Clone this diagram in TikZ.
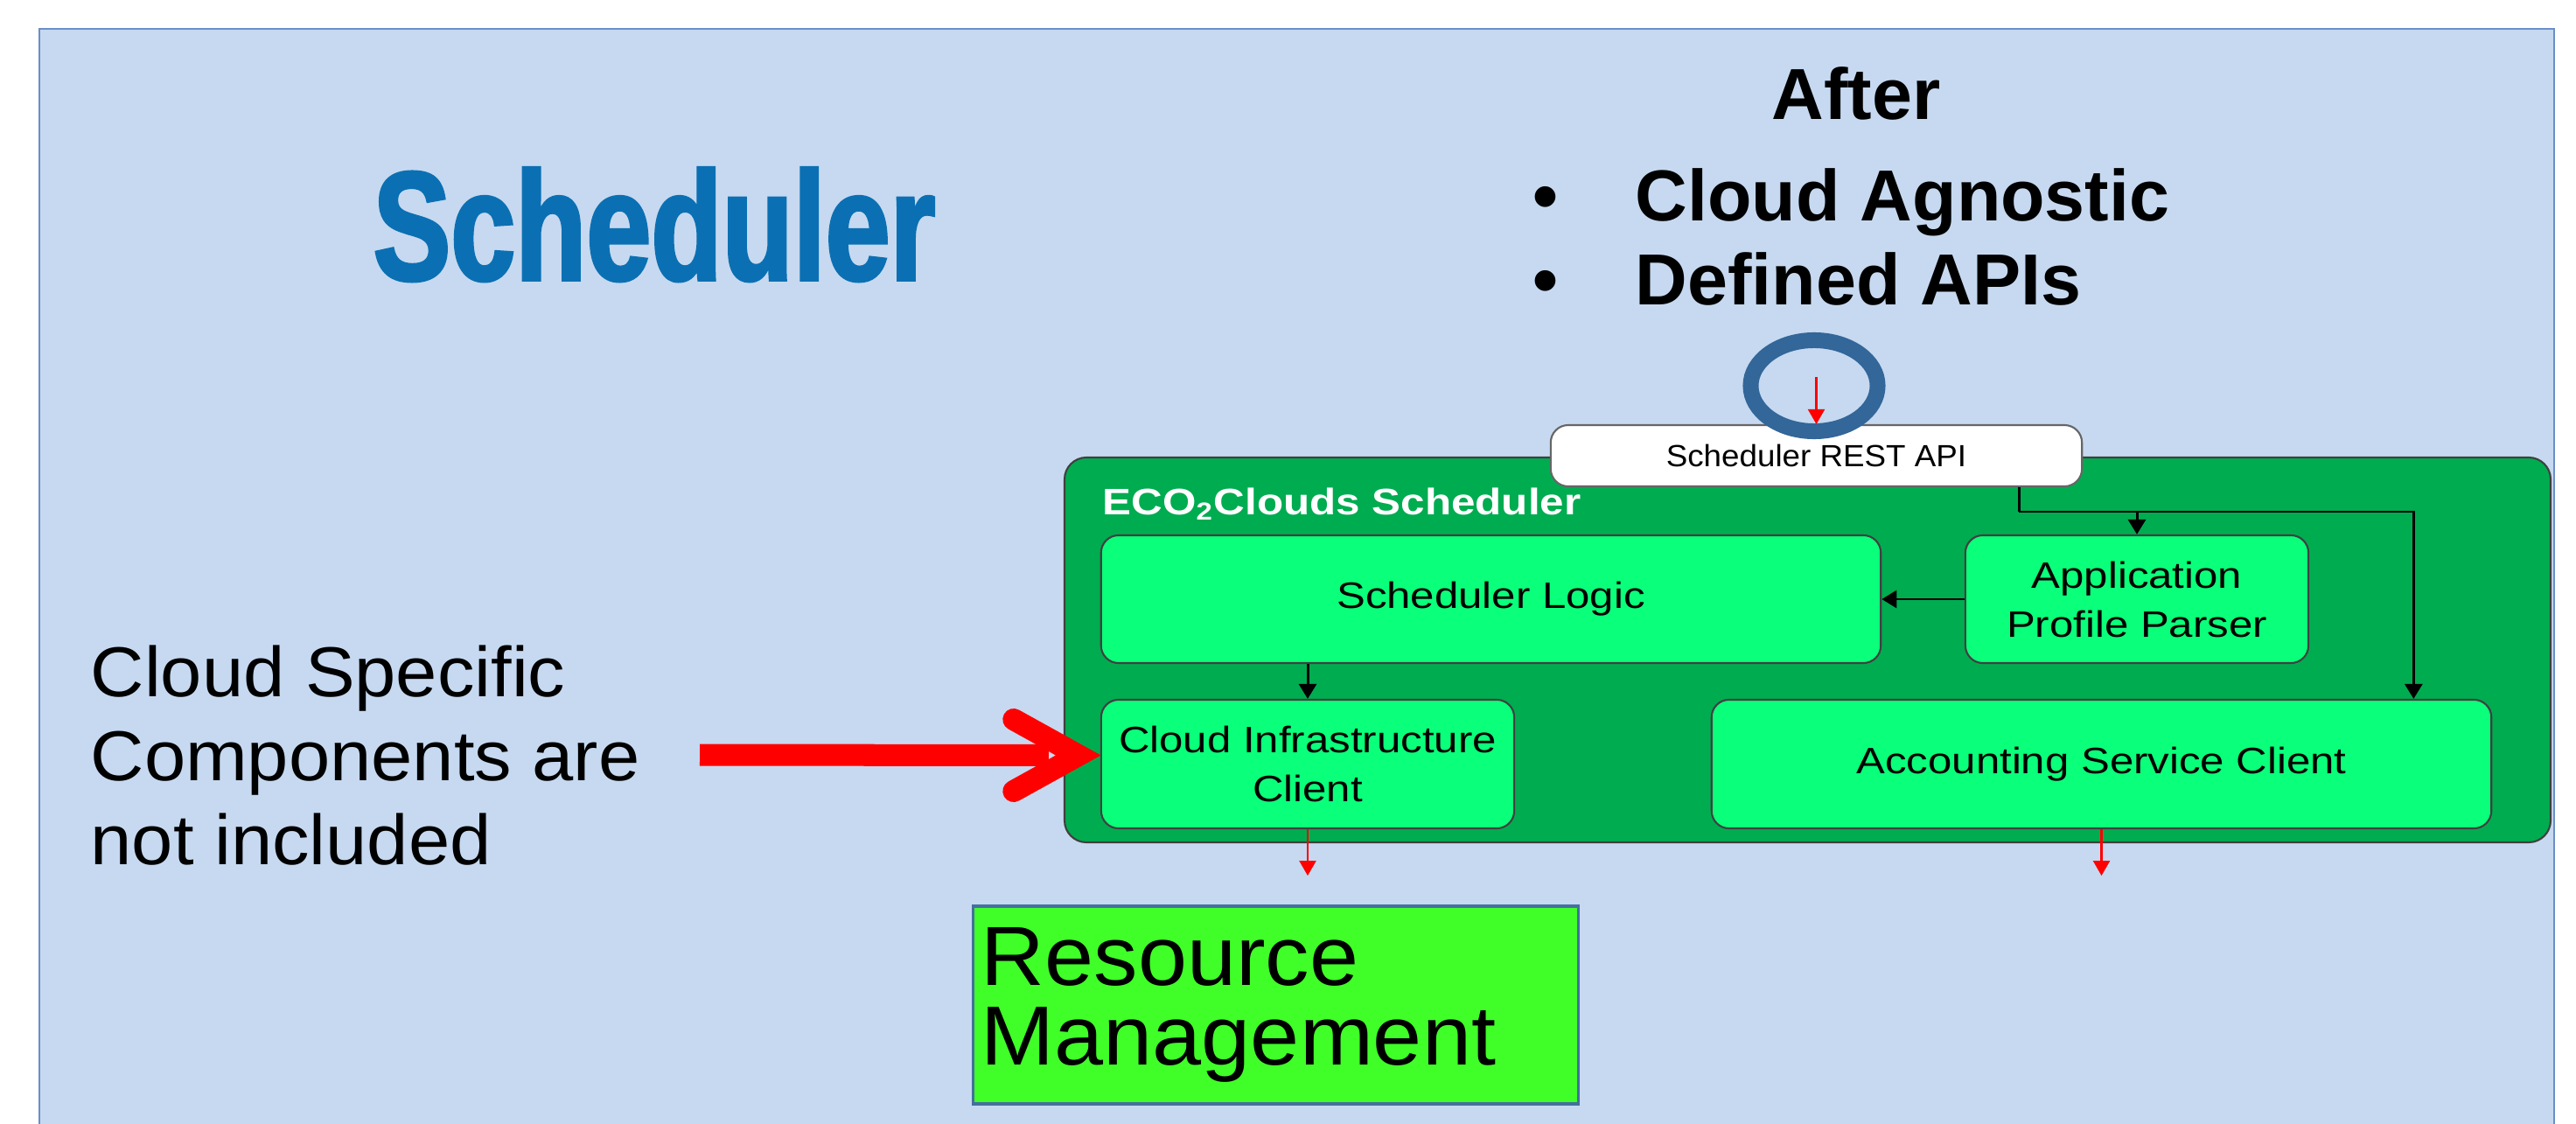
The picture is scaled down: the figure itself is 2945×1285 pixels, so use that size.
\documentclass[tikz,border=0pt]{standalone}
\usepackage{fontspec}
\setmainfont{Liberation Sans}
\newfontfamily\widefont{Liberation Sans}[FakeStretch=1.17]
\newfontfamily\apifont{Liberation Sans}[FakeStretch=1.05]
\newfontfamily\resfont{Liberation Sans}[FakeStretch=1.05]
\newfontfamily\notefont{Liberation Sans}[FakeStretch=1.05]
\newfontfamily\titlefont{Liberation Sans}[FakeStretch=0.75,FakeBold=2]
\usetikzlibrary{arrows.meta,calc,positioning}
\definecolor{slide}{RGB}{198,217,240}
\definecolor{framecol}{RGB}{108,142,198}
\definecolor{titleblue}{RGB}{11,112,179}
\definecolor{ecogreen}{RGB}{0,172,80}
\definecolor{boxgreen}{RGB}{10,255,122}
\definecolor{rmgreen}{RGB}{64,255,40}
\definecolor{rmborder}{RGB}{70,110,160}
\definecolor{ringblue}{RGB}{51,102,153}

\begin{document}
\begin{tikzpicture}[x=0.01cm,y=-0.01cm,
    box/.style={draw=black!75, line width=0.6pt, fill=boxgreen, rounded corners=0.2cm, inner sep=0pt, align=center, font=\widefont\fontsize{11.95pt}{15.93pt}\selectfont},
    headtext/.style={inner sep=0pt, font=\bfseries\fontsize{23.5pt}{28pt}\selectfont},
    link/.style={draw, line width=0.85pt, -{Triangle[length=1.7mm,width=2mm]}},
    redlink/.style={draw=red, line width=0.6pt, -{Triangle[length=1.7mm,width=1.9mm]}},
    bigred/.style={draw=red, line width=0.25cm}]

    \useasboundingbox (0,0) rectangle (2945,1285);
    \fill[white] (0,0) rectangle (2945,1285);
    \draw[draw=framecol, line width=0.6pt, fill=slide] (45,33) rectangle (2920,1320);

    % headings
    \node[text=titleblue, anchor=base, inner sep=0pt, font=\titlefont\bfseries\fontsize{50.4pt}{60pt}\selectfont] (title) at (748,320) {Scheduler};
    \node[headtext, anchor=base] (after) at (2122,137) {After};
    \node[headtext, anchor=base west] (agnostic) at (1752,253) {\makebox[1.17cm][l]{\textbullet}Cloud Agnostic};
    \node[headtext, anchor=base west] (defined) at (1752,348) {\makebox[1.17cm][l]{\textbullet}Defined APIs};

    % scheduler block
    \draw[draw=black!75, line width=0.6pt, fill=ecogreen, rounded corners=0.25cm] (1217,523) rectangle (2916,963);
    \node[text=white, anchor=base west, inner sep=0pt, font=\widefont\bfseries\fontsize{12pt}{14pt}\selectfont] (ecolabel) at (1260,588) {ECO\textsubscript{2}Clouds Scheduler};

    \node[box, minimum width=6.07cm, minimum height=0.70cm, fill=white, draw=black!60, font=\apifont\fontsize{9.96pt}{12pt}\selectfont] (api) at (2076.5,521) {Scheduler REST API};
    \node[box, minimum width=8.91cm, minimum height=1.46cm] (logic) at (1704.5,685) {Scheduler Logic};
    \node[box, minimum width=3.92cm, minimum height=1.46cm] (parser) at (2443,685) {Application\\Profile Parser};
    \node[box, minimum width=4.72cm, minimum height=1.47cm] (cic) at (1495,873.5) {Cloud Infrastructure\\Client};
    \node[box, minimum width=8.91cm, minimum height=1.47cm] (asc) at (2402.5,873.5) {Accounting Service Client};

    \node[draw=rmborder, line width=0.9pt, fill=rmgreen, minimum width=6.91cm, minimum height=2.26cm, inner xsep=0.09cm, inner ysep=0pt, text width=6.73cm, align=left, font=\resfont\fontsize{27.3pt}{25.9pt}\selectfont] (res) at (1458.5,1149) {Resource\\Management};

    \node[anchor=north west, inner sep=0pt, align=left, font=\notefont\fontsize{23pt}{27.3pt}\selectfont] (note) at (103,737) {Cloud Specific\\Components are\\not included};

    % connectors
    \coordinate (split) at (2308,585);
    \draw[line width=0.85pt] (api.south -| split) -- (split);
    \draw[link] (split) -| (parser.north);
    \draw[link] (split) -| ($(asc.north east)+(-90,0)$);
    \draw[link] (parser.west) -- (logic.east);
    \draw[link] (logic.south -| cic.north) -- (cic.north);
    \draw[redlink] (cic.south) -- ++(0,53);
    \draw[redlink] (asc.south) -- ++(0,53);

    \draw[ringblue, line width=0.18cm] (2074,441) ellipse [x radius=0.725cm, y radius=0.52cm];
    \draw[redlink] ($(api.north)+(0,-54)$) -- (api.north);

    % big arrow
    \coordinate (tip) at ($(cic.west)+(3,-10)$);
    \coordinate (notetip) at (800,863);
    \draw[bigred] (notetip) -- ($(tip)+(-62,0)$);
    \draw[bigred, line cap=round, line join=miter] ($(tip)+(-102,-41)$) -- ($(tip)+(-28,0)$) -- ($(tip)+(-102,41)$);

\end{tikzpicture}
\end{document}
